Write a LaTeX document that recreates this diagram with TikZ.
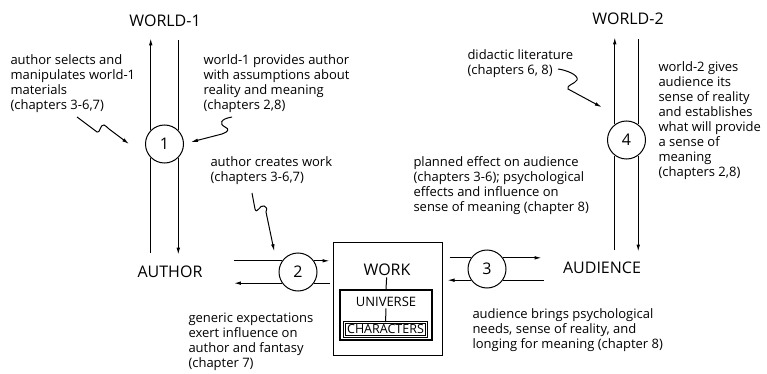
\documentclass[tikz,border=0pt]{standalone}
\usepackage{fontspec}
\setmainfont{Open Sans}
\usetikzlibrary{arrows.meta}

\tikzset{
  txt/.style={anchor=north west,inner sep=0pt,align=left,font=\fontsize{13}{15}\selectfont},
  lbl/.style={inner sep=1pt,font=\fontsize{16}{19}\selectfont},
  num/.style={circle,draw,minimum size=38pt,inner sep=0pt,font=\fontsize{16}{19}\selectfont},
}

\begin{document}
\begin{tikzpicture}[x=1pt,y=-1pt,line width=1pt,>={Latex[length=7pt,width=3.6pt]}]
\useasboundingbox (0,0) rectangle (767,374);

% the five places
\node[lbl] (world1) at (165,21) {WORLD-1};
\node[lbl] (world2) at (628,19) {WORLD-2};
\node[lbl] (author) at (170,272) {AUTHOR};
\node[lbl] (audience) at (602,268) {AUDIENCE};

\node[draw,minimum width=109pt,minimum height=113pt] (work) at (387.5,298.5) {};
\node[lbl] (worktxt) at (387,270) {WORK};
\node[draw,line width=1.3pt,minimum width=92pt,minimum height=50pt] (univ) at (386,315) {};
\node[inner sep=1pt,font=\fontsize{13}{15}\selectfont] (univtxt) at (386,302) {UNIVERSE};
\node[draw,double,line width=0.7pt,double distance=1.1pt,inner sep=2.4pt,
  font=\fontsize{12.5}{15}\selectfont] (chars) at (385.5,329.5) {CHARACTERS};
\draw (worktxt) -- (univ.north);
\draw (univtxt) -- (chars);

% numbered circles
\node[num] (c1) at (164.5,144) {1};
\node[num] (c2) at (298,272) {2};
\node[num] (c3) at (487,269) {3};
\node[num] (c4) at (626.5,140) {4};

% world-1 <-> author
\draw[->,shorten >=10pt] (c1.135) -- (c1.135 |- world1.south);
\draw[shorten <=12pt] (c1.225 |- author.north) -- (c1.225);
\draw[shorten <=12pt] (c1.45 |- world1.south) -- (c1.45);
\draw[->,shorten >=10pt] (c1.-45) -- (c1.-45 |- author.north);

% world-2 <-> audience
\draw[->,shorten >=11pt] (c4.127) -- (c4.127 |- world2.south);
\draw[shorten <=11pt] (c4.233 |- audience.north) -- (c4.233);
\draw[shorten <=13pt] (c4.53 |- world2.south) -- (c4.53);
\draw[->,shorten >=9pt] (c4.-53) -- (c4.-53 |- audience.north);

% author <-> work
\draw[shorten <=30pt] (c2.145 -| author.east) -- (c2.145);
\draw[->,shorten >=3pt] (c2.35) -- (c2.35 -| work.west);
\draw[shorten <=3pt] (c2.-35 -| work.west) -- (c2.-35);
\draw[->,shorten >=30pt] (c2.215) -- (c2.215 -| author.east);

% work <-> audience
\draw[shorten <=7pt] (c3.145 -| work.east) -- (c3.145);
\draw[->,shorten >=20pt] (c3.35) -- (c3.35 -| audience.west);
\draw[shorten <=18pt] (c3.-35 -| audience.west) -- (c3.-35);
\draw[->,shorten >=5pt] (c3.215) -- (c3.215 -| work.east);

% notes
\node[txt] (select) at (10,54) {author selects and\\manipulates world-1\\materials\\(chapters 3-6,7)};
\node[txt] (provide) at (203,54) {world-1 provides author\\with assumptions about\\reality and meaning\\(chapters 2,8)};
\node[txt] (create) at (210,156) {author creates work\\(chapters 3-6,7)};
\node[txt] (generic) at (188,312) {generic expectations\\exert influence on\\author and fantasy\\(chapter 7)};
\node[txt] (planned) at (413,156) {planned effect on audience\\(chapters 3-6); psychological\\effects and influence on\\sense of meaning (chapter 8)};
\node[txt] (didactic) at (467,49) {didactic literature\\(chapters 6, 8)};
\node[txt] (gives) at (658,61) {world-2 gives\\audience its\\sense of reality\\and establishes\\what will provide\\a sense of\\meaning\\(chapters 2,8)};
\node[txt] (brings) at (472,308) {audience brings psychological\\needs, sense of reality, and\\longing for meaning (chapter 8)};

% wavy pointers
\coordinate (q1) at (77,117);
\coordinate (q2) at (232,117);
\coordinate (q3) at (252,193);
\coordinate (q4) at (558,69);
\draw[->] (q1) -- (97,132) .. controls (100,134) and (100,124) .. (104,125)
  .. controls (106,126) and (107,127) .. (109,129) -- ([xshift=-16pt]c1.west);
\draw[->] (q2) .. controls (220,119) and (219,124) .. (225,127)
  .. controls (230,129) and (228,132) .. (222,134) -- ([xshift=7pt,yshift=2pt]c1.east);
\draw[->] (q3) -- (255,209) .. controls (257,215) and (260,204) .. (264,206)
  .. controls (267,208) .. (266,212) -- ([xshift=-10pt,yshift=7pt]c2.north west);
\draw[->] (q4) .. controls (566,70) and (579,75) .. (577,80)
  .. controls (575,84) and (566,85) .. (568,89) -- ([xshift=-11pt,yshift=19pt]c4.north west);

\end{tikzpicture}
\end{document}
